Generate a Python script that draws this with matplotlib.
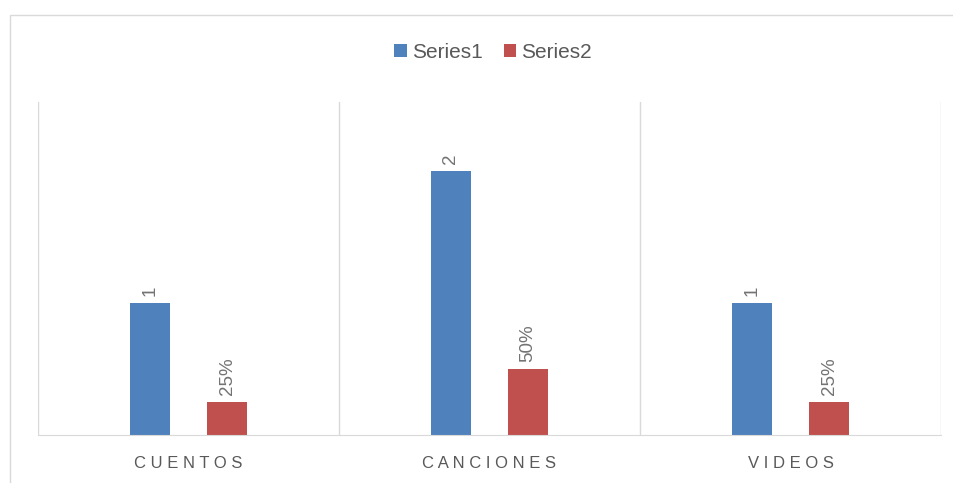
import matplotlib.pyplot as plt
from matplotlib.patches import Rectangle

categories = ['CUENTOS', 'CANCIONES', 'VIDEOS']
series1 = [1, 2, 1]
series2 = [0.25, 0.5, 0.25]
labels1 = ['1', '2', '1']
labels2 = ['25%', '50%', '25%']

blue = '#4f81bd'
red = '#c0504d'
grid_col = '#d9d9d9'
text_col = '#595959'

plt.rcParams['font.family'] = ['Liberation Sans', 'DejaVu Sans']

W, H = 954, 483
fig = plt.figure(figsize=(W / 100, H / 100), dpi=100)

# outer chart border (clipped at right and bottom like the screenshot)
fig.patches.append(Rectangle((10 / W, -0.1), 1.1, (H - 15) / H + 0.1,
                             transform=fig.transFigure, fill=False,
                             edgecolor=grid_col, linewidth=1))

ax = fig.add_axes([38 / W, (H - 435) / H, (941 - 38) / W, (435 - 102) / H])

x = range(len(categories))
off = 0.128
w = 0.136
b1 = ax.bar([i - off for i in x], series1, w, color=blue, label='Series1')
b2 = ax.bar([i + off for i in x], series2, w, color=red, label='Series2')

for bars, labs in ((b1, labels1), (b2, labels2)):
    for bar, lab in zip(bars, labs):
        ax.annotate(lab, (bar.get_x() + bar.get_width() / 2, bar.get_height()),
                    xytext=(0, 5), textcoords='offset points', rotation=90,
                    ha='center', va='bottom', fontsize=13.5, color='#737373')

ax.set_xlim(-0.5, 2.5)
ax.set_ylim(0, 2.52)
ax.set_yticks([])
ax.set_xticks(list(x))
ax.set_xticklabels([' '.join(c) for c in categories], fontsize=12, color=text_col)
ax.tick_params(axis='x', length=0, pad=15)
ax.set_xticks([-0.5, 0.5, 1.5, 2.5], minor=True)
ax.tick_params(axis='x', which='minor', length=0)
ax.grid(True, which='minor', axis='x', color=grid_col, linewidth=1)
for s in ['top', 'right', 'left']:
    ax.spines[s].set_visible(False)
ax.spines['bottom'].set_color(grid_col)

fig.legend(loc='center', bbox_to_anchor=(0.517, 1 - 52 / H), ncol=2, frameon=False,
           fontsize=15, handlelength=0.6, handleheight=0.6, handletextpad=0.25,
           columnspacing=1.0, labelcolor=text_col)

fig.savefig('out.png', dpi=100)
